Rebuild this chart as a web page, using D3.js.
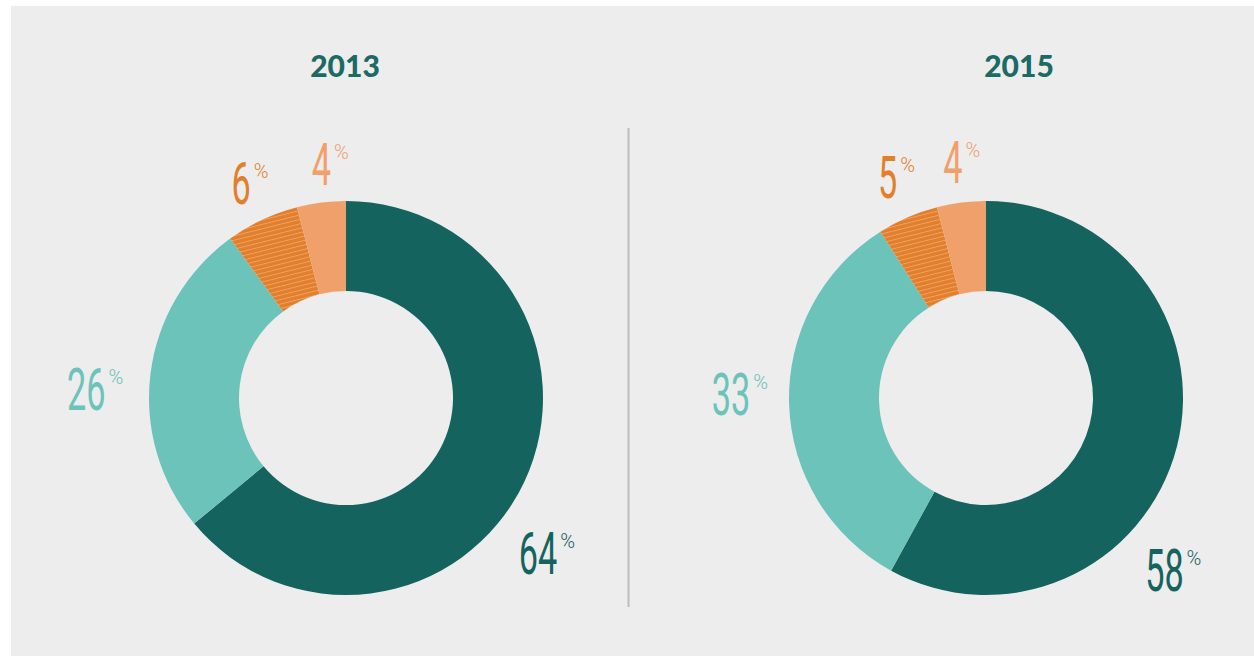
<!DOCTYPE html>
<html>
<head>
<meta charset="utf-8">
<script src="https://cdn.jsdelivr.net/npm/d3@7"></script>
<style>
  body { margin: 0; background: #fff; }
  svg { display: block; }
</style>
</head>
<body>
<div id="chart"></div>
<script>
/* DATA */
const years = ["2013", "2015"];
const categories = ["a", "b", "c", "d"];
const values2013 = [64, 26, 6, 4];
const values2015 = [58, 33, 5, 4];

/* LAYOUT */
const width = 1254, height = 656;
const centers = [346, 986];       // donut centres (x)
const centerY = 398;
const titleX = [345, 1019];
const outerR = 197, innerR = 107;
// label placement in polar form (deg clockwise from top, radius)
const labelAngle = [[129, 272, 334, 354], [134, 271, 336, 352]];
const labelRadius = [[247, 260, 239, 235], [248, 255, 242, 238]];

const colorScale = d3.scaleOrdinal()
  .domain(categories)
  .range(["#15635f", "#6bc3b9", "url(#hatch)", "#f0a06b"]);
const textColor = d3.scaleOrdinal()
  .domain(categories)
  .range(["#15635f", "#6bc3b9", "#e27f2c", "#f0a06b"]);

const svg = d3.select("#chart").append("svg")
  .attr("width", width)
  .attr("height", height);

// hatch pattern for the third slice
const pattern = svg.append("defs").append("pattern")
  .attr("id", "hatch")
  .attr("patternUnits", "userSpaceOnUse")
  .attr("width", 10)
  .attr("height", 4.3)
  .attr("patternTransform", "rotate(-14)");
pattern.append("rect")
  .attr("width", 10).attr("height", 4.3)
  .attr("fill", "#e27f2c");
pattern.append("line")
  .attr("x1", 0).attr("x2", 10)
  .attr("y1", 0.5).attr("y2", 0.5)
  .attr("stroke", "#f0a468")
  .attr("stroke-width", 0.9);

// panel
svg.append("rect")
  .attr("x", 11).attr("y", 6)
  .attr("width", width - 11).attr("height", height - 6)
  .attr("fill", "#ededed");

// divider
svg.append("line")
  .attr("x1", 628.5).attr("x2", 628.5)
  .attr("y1", 128).attr("y2", 607)
  .attr("stroke", "#bdbdbd")
  .attr("stroke-width", 2);

const pie = d3.pie().sort(null).value(d => d.value);
const arc = d3.arc().innerRadius(innerR).outerRadius(outerR);

[values2013, values2015].forEach((vals, i) => {
  const data = categories.map((c, j) => ({ cat: c, value: vals[j] }));
  const g = svg.append("g")
    .attr("transform", `translate(${centers[i]},${centerY})`);

  g.selectAll("path.slice")
    .data(pie(data))
    .join("path")
    .attr("class", "slice")
    .attr("d", arc)
    .attr("fill", d => colorScale(d.data.cat));

  svg.append("text")
    .attr("x", titleX[i])
    .attr("y", 77)
    .attr("text-anchor", "middle")
    .attr("font-family", "Lato, sans-serif")
    .attr("font-weight", 900)
    .attr("font-size", 30)
    .attr("fill", "#1b6a63")
    .text(years[i]);

  // value labels
  data.forEach((d, j) => {
    const a = labelAngle[i][j] * Math.PI / 180;
    const r = labelRadius[i][j];
    const lx = Math.sin(a) * r, ly = -Math.cos(a) * r;
    const lg = g.append("g").attr("transform", `translate(${lx},${ly})`);
    const sx = 0.58;
    const num = lg.append("text")
      .attr("transform", `scale(${sx},1)`)
      .attr("y", 21)
      .attr("text-anchor", "middle")
      .attr("font-family", "Roboto, sans-serif")
      .attr("font-weight", 400)
      .attr("font-size", 59)
      .attr("fill", textColor(d.cat))
      .text(d.value);
    const w = num.node().getComputedTextLength() * sx;
    lg.append("text")
      .attr("x", w / 2 + 3)
      .attr("y", -5)
      .attr("font-family", "Roboto, sans-serif")
      .attr("font-weight", 300)
      .attr("font-size", 20)
      .attr("fill", textColor(d.cat))
      .text("%");
  });
});
</script>
</body>
</html>
